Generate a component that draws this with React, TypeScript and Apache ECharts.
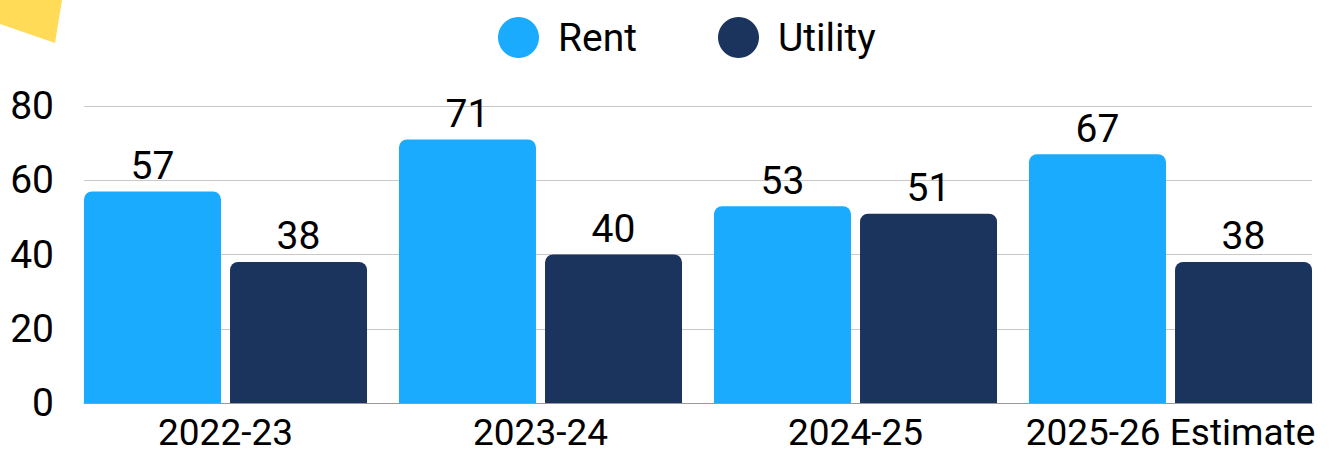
import React, { useEffect, useRef } from "react";
import * as echarts from "echarts";

const categories = ["2022-23", "2023-24", "2024-25", "2025-26 Estimate"];
const rentValues = [57, 71, 53, 67];
const utilityValues = [38, 40, 51, 38];
const seriesNames = ["Rent", "Utility"];
const yTicks = { min: 0, max: 80, interval: 20 };

const FONT = "Roboto";
const FS = 39;

export default function App() {
  const ref = useRef<HTMLDivElement>(null);
  useEffect(() => {
    document.body.style.margin = "0";
    const chart = echarts.init(ref.current!, null, { renderer: "svg" });
    const labelStyle = {
      show: true,
      position: "top" as const,
      distance: 6,
      color: "#000",
      fontSize: FS,
      fontFamily: FONT,
    };
    const legendText = {
      fontSize: FS,
      color: "#000",
      fontFamily: FONT,
      padding: [0, 0, 0, 14],
    };
    chart.setOption({
      animation: false,
      backgroundColor: "#fff",
      textStyle: { fontFamily: FONT },
      graphic: [
        {
          type: "polygon",
          shape: { points: [[0, 0], [62, 0], [55, 43], [0, 24]] },
          style: { fill: "#FFDB58" },
          z: 0,
        },
      ],
      legend: [
        {
          top: 12,
          left: 493,
          icon: "circle",
          itemWidth: 41,
          itemHeight: 41,
          data: [seriesNames[0]],
          textStyle: legendText,
        },
        {
          top: 12,
          left: 713,
          icon: "circle",
          itemWidth: 41,
          itemHeight: 41,
          data: [seriesNames[1]],
          textStyle: legendText,
        },
      ],
      grid: [
        { left: 84, right: 31, top: 106, bottom: 53 },
        { left: 68, right: 15, top: 106, bottom: 53 },
      ],
      xAxis: [
        {
          type: "category",
          gridIndex: 0,
          data: categories,
          axisLabel: { show: false },
          axisTick: { show: false },
          axisLine: { show: true, lineStyle: { color: "#999", width: 1 } },
        },
        {
          type: "category",
          gridIndex: 1,
          data: categories,
          axisTick: { show: false },
          axisLine: { show: false },
          axisLabel: {
            color: "#000",
            fontSize: 37,
            fontFamily: FONT,
            lineHeight: 30,
            margin: 14,
            interval: 0,
          },
        },
      ],
      yAxis: [
        {
          type: "value",
          gridIndex: 0,
          min: yTicks.min,
          max: yTicks.max,
          interval: yTicks.interval,
          axisLine: { show: false },
          axisTick: { show: false },
          splitLine: { lineStyle: { color: "#c8c8c8", width: 1 } },
          axisLabel: {
            color: "#000",
            fontSize: FS,
            fontFamily: FONT,
            margin: 30,
          },
        },
        {
          type: "value",
          gridIndex: 1,
          min: yTicks.min,
          max: yTicks.max,
          interval: yTicks.interval,
          show: false,
          splitLine: { show: false },
        },
      ],
      series: [
        {
          name: seriesNames[0],
          type: "bar",
          xAxisIndex: 1,
          yAxisIndex: 1,
          data: rentValues,
          barWidth: 137,
          barGap: "6.6%",
          itemStyle: { color: "#1AABFF", borderRadius: [8, 8, 0, 0] },
          label: labelStyle,
        },
        {
          name: seriesNames[1],
          type: "bar",
          xAxisIndex: 1,
          yAxisIndex: 1,
          data: utilityValues,
          barWidth: 137,
          barGap: "6.6%",
          itemStyle: { color: "#1B345D", borderRadius: [8, 8, 0, 0] },
          label: labelStyle,
        },
      ],
    });
    return () => chart.dispose();
  }, []);
  return <div ref={ref} style={{ width: 1343, height: 456 }} />;
}
